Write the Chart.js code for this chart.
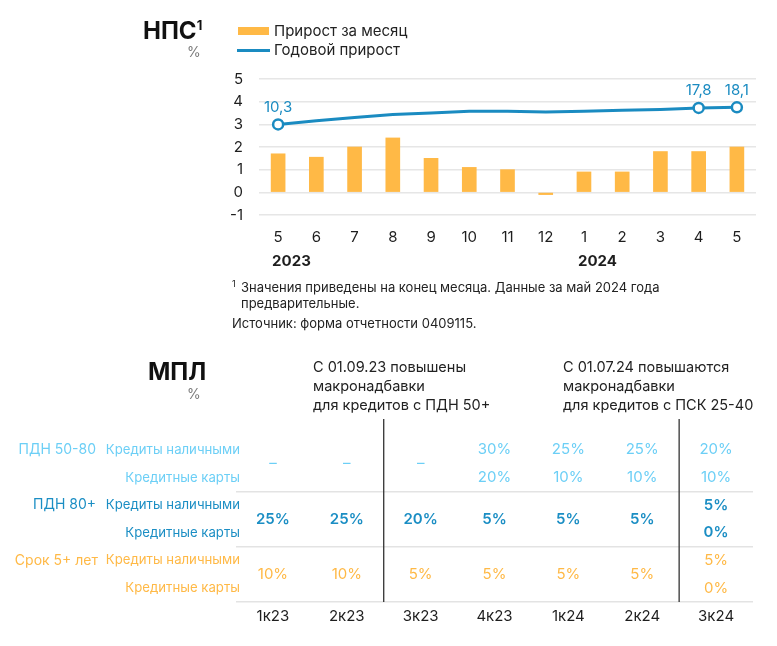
<!DOCTYPE html>
<html><head><meta charset="utf-8">
<script src="https://cdn.jsdelivr.net/npm/chart.js@4.4.1/dist/chart.umd.min.js"></script>
<style>
body{margin:0;width:777px;height:646px;background:#fff;font-family:Inter,"Noto Sans",sans-serif;position:relative;overflow:hidden;color:#1e1e1e}
.abs{position:absolute;white-space:nowrap}
#c1{position:absolute;left:0;top:0}
#c2{position:absolute;left:0;top:340px}
.ttl{font-size:24px;font-weight:700;line-height:24px;color:#111}
.pct{font-size:14px;color:#7a7a7a;line-height:16px}
.lg{font-size:15px;line-height:18px;color:#222}
.fn{font-size:13px;line-height:16px;color:#222}
.nt{font-size:14.5px;line-height:19px;color:#222}
</style></head><body>
<canvas id="c1" width="777" height="280"></canvas>
<canvas id="c2" width="777" height="306"></canvas>

<div class="abs ttl" style="left:143px;top:19px">НПС<span style="font-size:13px;position:relative;top:-9px">1</span></div>
<div class="abs pct" style="left:187px;top:44px">%</div>
<div class="abs" style="left:238px;top:27px;width:31px;height:8px;background:#FFB946"></div>
<div class="abs lg" style="left:274px;top:22px">Прирост за месяц</div>
<div class="abs" style="left:237px;top:49px;width:33px;height:3px;background:#1A8BC1"></div>
<div class="abs lg" style="left:274px;top:41px">Годовой прирост</div>

<div class="abs fn" style="left:232px;top:276px;font-size:9px">1</div>
<div class="abs fn" style="left:241px;top:279px">Значения приведены на конец месяца. Данные за май 2024 года<br>предварительные.</div>
<div class="abs fn" style="left:232px;top:315px">Источник: форма отчетности 0409115.</div>

<div class="abs ttl" style="left:148px;top:360px">МПЛ</div>
<div class="abs pct" style="left:187px;top:386px">%</div>
<div class="abs nt" id="note0" style="left:313px;top:357px"></div>
<div class="abs nt" id="note1" style="left:563px;top:357px"></div>

<script>
// ---------- data: top chart ----------
const months = ['5','6','7','8','9','10','11','12','1','2','3','4','5'];
const yearNames = ['2023','2024'];
const yearStartIdx = [0, 8];
const monthlyGrowth = [1.7, 1.55, 2.0, 2.4, 1.5, 1.1, 1.0, -0.1, 0.9, 0.9, 1.8, 1.8, 2.0];
const annualGrowth = [10.3, 12.0, 13.4, 14.8, 15.5, 16.3, 16.3, 15.9, 16.3, 16.7, 17.1, 17.8, 18.1];
const annualLabeledIdx = [0, 11, 12];
const leftTicks = [-1, 0, 1, 2, 3, 4, 5];

// ---------- data: table ----------
const quarters = ['1к23','2к23','3к23','4к23','1к24','2к24','3к24'];
const groupNames = ['ПДН 50-80', 'ПДН 80+', 'Срок 5+ лет'];
const productNames = ['Кредиты наличными', 'Кредитные карты'];
const pdn5080Cash = [null, null, null, 30, 25, 25, 20];
const pdn5080Card = [null, null, null, 20, 10, 10, 10];
const pdn80Cash = [25, 25, 20, 5, 5, 5, 5];
const pdn80Card = [25, 25, 20, 5, 5, 5, 0];
const term5Cash = [10, 10, 5, 5, 5, 5, 5];
const term5Card = [10, 10, 5, 5, 5, 5, 0];
const policyBreakIdx = [2, 6];
const notes = [
  ['С 01.09.23 повышены', 'макронадбавки', 'для кредитов с ПДН 50+'],
  ['С 01.07.24 повышаются', 'макронадбавки', 'для кредитов с ПСК 25-40']
];

notes.forEach((n, i) => { document.getElementById('note' + i).innerHTML = n.join('<br>'); });

const FONT = 'Inter, "Noto Sans", sans-serif';
const BLUE = '#1A8BC1';
const ORANGE = '#FFB946';

// ---------- top chart ----------
const topPlugin = {
  id: 'topExtras',
  afterDatasetsDraw(chart) {
    const ctx = chart.ctx;
    const meta = chart.getDatasetMeta(0);
    ctx.save();
    ctx.font = '15px ' + FONT;
    ctx.fillStyle = BLUE;
    ctx.textAlign = 'center';
    ctx.textBaseline = 'middle';
    annualLabeledIdx.forEach(i => {
      const p = meta.data[i];
      ctx.fillText(annualGrowth[i].toFixed(1).replace('.', ','), p.x, p.y - 17);
    });
    const xs = chart.scales.x;
    ctx.font = 'bold 15px ' + FONT;
    ctx.fillStyle = '#1e1e1e';
    ctx.textAlign = 'left';
    yearNames.forEach((y, k) => {
      ctx.fillText(y, xs.getPixelForValue(yearStartIdx[k]) - 6, 261);
    });
    ctx.restore();
  }
};

new Chart(document.getElementById('c1'), {
  data: {
    labels: months,
    datasets: [
      {
        type: 'line', label: 'Годовой прирост', data: annualGrowth, yAxisID: 'y1', order: 0,
        borderColor: BLUE, borderWidth: 3, tension: 0,
        pointRadius: annualGrowth.map((v, i) => annualLabeledIdx.includes(i) ? 5 : 0),
        pointBackgroundColor: '#fff', pointBorderColor: BLUE, pointBorderWidth: 2.5
      },
      {
        type: 'bar', label: 'Прирост за месяц', data: monthlyGrowth, yAxisID: 'y', order: 1,
        backgroundColor: ORANGE, barThickness: 14
      }
    ]
  },
  options: {
    responsive: false, animation: false,
    layout: { padding: { left: 209, right: 21, top: 79, bottom: 34 } },
    plugins: { legend: { display: false }, tooltip: { enabled: false } },
    scales: {
      x: {
        grid: { display: false, drawTicks: false }, border: { display: false },
        ticks: { font: { size: 15, family: FONT }, color: '#1e1e1e', padding: 13, maxRotation: 0 },
        afterFit(s) { s.height = 31; }
      },
      y: {
        position: 'left', min: -1, max: 5,
        afterBuildTicks(s) { s.ticks = leftTicks.map(v => ({ value: v })); },
        grid: { color: '#e6e6e6', lineWidth: 1.5, drawTicks: false },
        border: { display: false },
        ticks: { font: { size: 15, family: FONT }, color: '#1e1e1e', padding: 16 },
        afterFit(s) { s.width = 50; }
      },
      y1: { position: 'right', min: -31, max: 31, display: false }
    }
  },
  plugins: [topPlugin]
});

// ---------- table chart ----------
const groupColors = ['#6CCFF6', '#1B8EC4', '#FFB946'];
const groupWeights = ['400', '600', '400'];
const groups = [[pdn5080Cash, pdn5080Card], [pdn80Cash, pdn80Card], [term5Cash, term5Card]];
const fmt = v => v + '%';

const tablePlugin = {
  id: 'tableCells',
  afterDraw(chart) {
    const ctx = chart.ctx;
    const xs = chart.scales.x, ys = chart.scales.y;
    const ca = chart.chartArea;
    ctx.save();
    ctx.strokeStyle = '#333';
    ctx.lineWidth = 1.3;
    policyBreakIdx.forEach(b => {
      const x = (xs.getPixelForValue(b - 1) + xs.getPixelForValue(b)) / 2;
      ctx.beginPath();
      ctx.moveTo(x, ca.top);
      ctx.lineTo(x, ca.bottom);
      ctx.stroke();
    });
    ctx.textBaseline = 'middle';
    groups.forEach((g, gi) => {
      const [cash, card] = g;
      const r0 = gi * 2, r1 = gi * 2 + 1;
      ctx.fillStyle = groupColors[gi];
      ctx.textAlign = 'right';
      ctx.font = '14px ' + FONT;
      ctx.fillText(groupNames[gi], gi === 2 ? 98 : 96, ys.getPixelForValue(r0));
      ctx.font = '13.2px ' + FONT;
      ctx.fillText(productNames[0], 240, ys.getPixelForValue(r0));
      ctx.fillText(productNames[1], 240, ys.getPixelForValue(r1));
      ctx.font = groupWeights[gi] + ' 15px ' + FONT;
      ctx.textAlign = 'center';
      quarters.forEach((q, i) => {
        const x = xs.getPixelForValue(i);
        const a = cash[i], b = card[i];
        if (a === null && b === null) {
          ctx.fillText('–', x, ys.getPixelForValue(r0 + 0.5));
        } else if (a === b) {
          ctx.fillText(fmt(a), x, ys.getPixelForValue(r0 + 0.5));
        } else {
          ctx.fillText(fmt(a), x, ys.getPixelForValue(r0));
          ctx.fillText(fmt(b), x, ys.getPixelForValue(r1));
        }
      });
    });
    ctx.restore();
  }
};

new Chart(document.getElementById('c2'), {
  type: 'bar',
  data: { labels: quarters, datasets: [] },
  options: {
    responsive: false, animation: false,
    layout: { padding: { left: 236, right: 24, top: 79, bottom: 0 } },
    plugins: { legend: { display: false }, tooltip: { enabled: false } },
    scales: {
      x: {
        grid: { display: false, drawTicks: false }, border: { display: false },
        ticks: { font: { size: 15, family: FONT }, color: '#1e1e1e', padding: 5, maxRotation: 0 },
        afterFit(s) { s.height = 44; }
      },
      y: {
        reverse: true, min: -1.12, max: 5.5,
        afterBuildTicks(s) { s.ticks = [1.5, 3.5, 5.5].map(v => ({ value: v })); },
        grid: { color: '#e3e3e3', lineWidth: 1.5, drawTicks: false },
        border: { display: false },
        ticks: { display: false },
        afterFit(s) { s.width = 0; }
      }
    }
  },
  plugins: [tablePlugin]
});
</script>
</body></html>
